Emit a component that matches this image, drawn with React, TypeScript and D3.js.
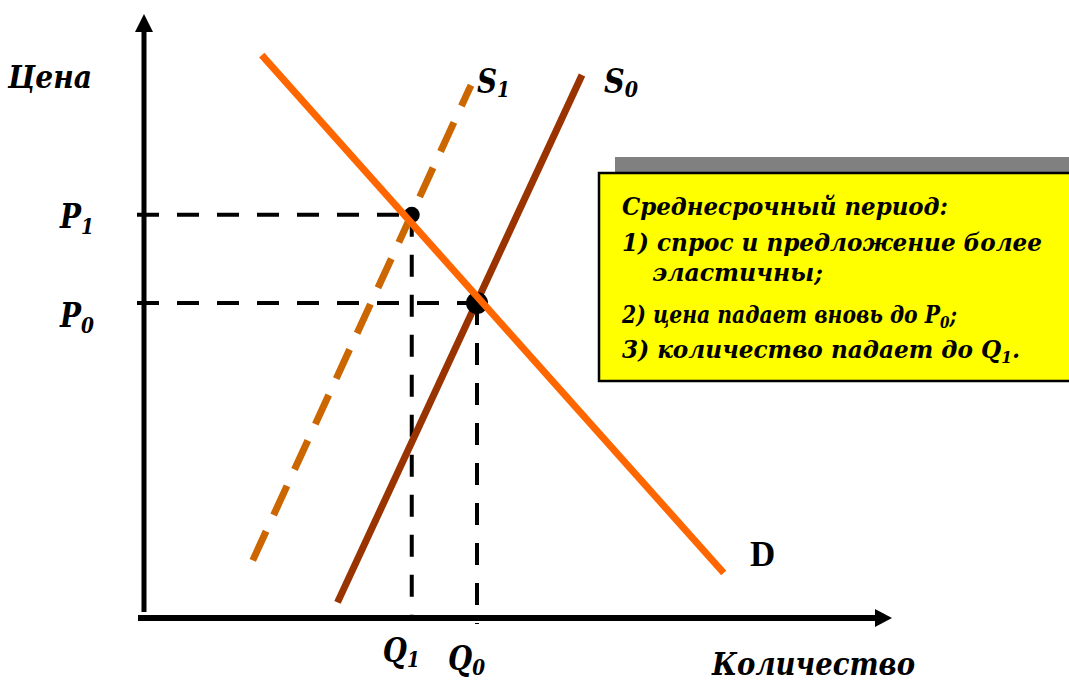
import React from "react";
import * as d3 from "d3";

// ---- data (abstract units: quantity 0..100, price 0..100) ----
const demandLine = [
  { q: 15.7, p: 93.8 },
  { q: 77.3, p: 7.5 },
];
const supply0Line = [
  { q: 25.8, p: 2.6 },
  { q: 58.4, p: 90.5 },
];
const supply1Line = [
  { q: 14.5, p: 9.6 },
  { q: 43.6, p: 88.8 },
];
const equilibria = [
  { name: "E1", q: 35.7, p: 67.2, r: 8 },
  { name: "E0", q: 44.4, p: 52.5, r: 11 },
];
const priceLabels = ["P", "P"];
const priceSubs = ["1", "0"];
const qtyLabels = ["Q", "Q"];
const qtySubs = ["1", "0"];
const boxLines = [
  "Среднесрочный период:",
  "1) спрос и предложение более",
  "эластичны;",
  "2) цена падает вновь до P",
  "3) количество падает до Q",
];

const W = 1069;
const H = 682;
const x = d3.scaleLinear().domain([0, 100]).range([144, 894]);
const y = d3.scaleLinear().domain([0, 100]).range([618, 18]);
const line = d3
  .line<{ q: number; p: number }>()
  .x((d) => x(d.q))
  .y((d) => y(d.p));

const BIFONT = "'DejaVu Serif', serif";

function BIText(props: {
  x: number;
  y: number;
  size: number;
  len?: number;
  children: React.ReactNode;
}) {
  const { x: tx, y: ty, size, len, children } = props;
  return (
    <text
      x={tx}
      y={ty}
      fontSize={size}
      style={{ fontFamily: BIFONT, fontWeight: 700, fontStyle: "italic" }}
      textLength={len}
      lengthAdjust={len ? "spacingAndGlyphs" : undefined}
    >
      {children}
    </text>
  );
}

export default function App() {
  const x0 = x(0);
  const y0 = y(0);
  return (
    <svg
      width={W}
      height={H}
      style={{ position: "absolute", left: 0, top: 0, background: "#fff" }}
    >
      {/* guide lines */}
      {equilibria.map((e, i) => (
        <g key={"g" + i} stroke="#000" strokeWidth={4} strokeDasharray="22,18" fill="none">
          <line x1={x0 - 7} y1={y(e.p)} x2={x(e.q)} y2={y(e.p)} />
          <line x1={x(e.q)} y1={y(e.p)} x2={x(e.q)} y2={y0 + (i === 1 ? 6 : 0)} />
        </g>
      ))}

      {/* axes */}
      <line x1={x0} y1={612} x2={x0} y2={30} stroke="#000" strokeWidth={5} />
      <path d={`M${x0},14 L${x0 - 9},32 L${x0 + 9},32 Z`} fill="#000" />
      <line x1={138} y1={y0} x2={876} y2={y0} stroke="#000" strokeWidth={6} />
      <path d={`M892,${y0} L875,${y0 - 9} L875,${y0 + 9} Z`} fill="#000" />

      {/* supply / demand */}
      <path d={line(supply1Line) || ""} stroke="#CC6600" strokeWidth={7} strokeDasharray="32,18" fill="none" />
      <path d={line(supply0Line) || ""} stroke="#993300" strokeWidth={7} fill="none" />
      {equilibria.map((e, i) => (
        <circle key={"c" + i} cx={x(e.q)} cy={y(e.p)} r={e.r} fill="#000" />
      ))}
      <path d={line(demandLine) || ""} stroke="#FF6600" strokeWidth={7} fill="none" />

      {/* axis titles */}
      <BIText x={8} y={88} size={32} len={84}>Цена</BIText>
      <BIText x={712} y={675} size={31} len={203}>Количество</BIText>

      {/* line labels */}
      <BIText x={477} y={93} size={33} len={33}>
        S<tspan fontSize={22} dy={4}>1</tspan>
      </BIText>
      <BIText x={604} y={93} size={33} len={34}>
        S<tspan fontSize={22} dy={4}>0</tspan>
      </BIText>
      <text x={750} y={566} fontSize={35} fontWeight="bold" style={{ fontFamily: "'Liberation Serif', serif" }}>D</text>

      {/* price labels */}
      {equilibria.map((e, i) => (
        <BIText key={"p" + i} x={60} y={y(e.p) + (i === 0 ? 13 : 24)} size={33} len={34}>
          {priceLabels[i]}
          <tspan fontSize={22} dy={6}>{priceSubs[i]}</tspan>
        </BIText>
      ))}
      {equilibria.map((e, i) => (
        <BIText key={"q" + i} x={x(e.q) - 29} y={i === 0 ? 662 : 670} size={33} len={37}>
          {qtyLabels[i]}
          <tspan fontSize={22} dy={5}>{qtySubs[i]}</tspan>
        </BIText>
      ))}

      {/* annotation box */}
      <rect x={615} y={157} width={460} height={20} fill="#808080" />
      <rect x={599} y={173} width={480} height={208} fill="#FFFF00" stroke="#000" strokeWidth={2.5} />
      <BIText x={622} y={215} size={24} len={326}>{boxLines[0]}</BIText>
      <BIText x={622} y={251} size={24} len={420}>{boxLines[1]}</BIText>
      <BIText x={652} y={281} size={24} len={171}>{boxLines[2]}</BIText>
      <BIText x={622} y={323} size={24} len={335}>
        {boxLines[3]}
        <tspan fontSize={16} dy={5}>0</tspan>
        <tspan dy={-5}>;</tspan>
      </BIText>
      <BIText x={622} y={358} size={24} len={398}>
        {boxLines[4]}
        <tspan fontSize={16} dy={5}>1</tspan>
        <tspan dy={-5}>.</tspan>
      </BIText>
    </svg>
  );
}
